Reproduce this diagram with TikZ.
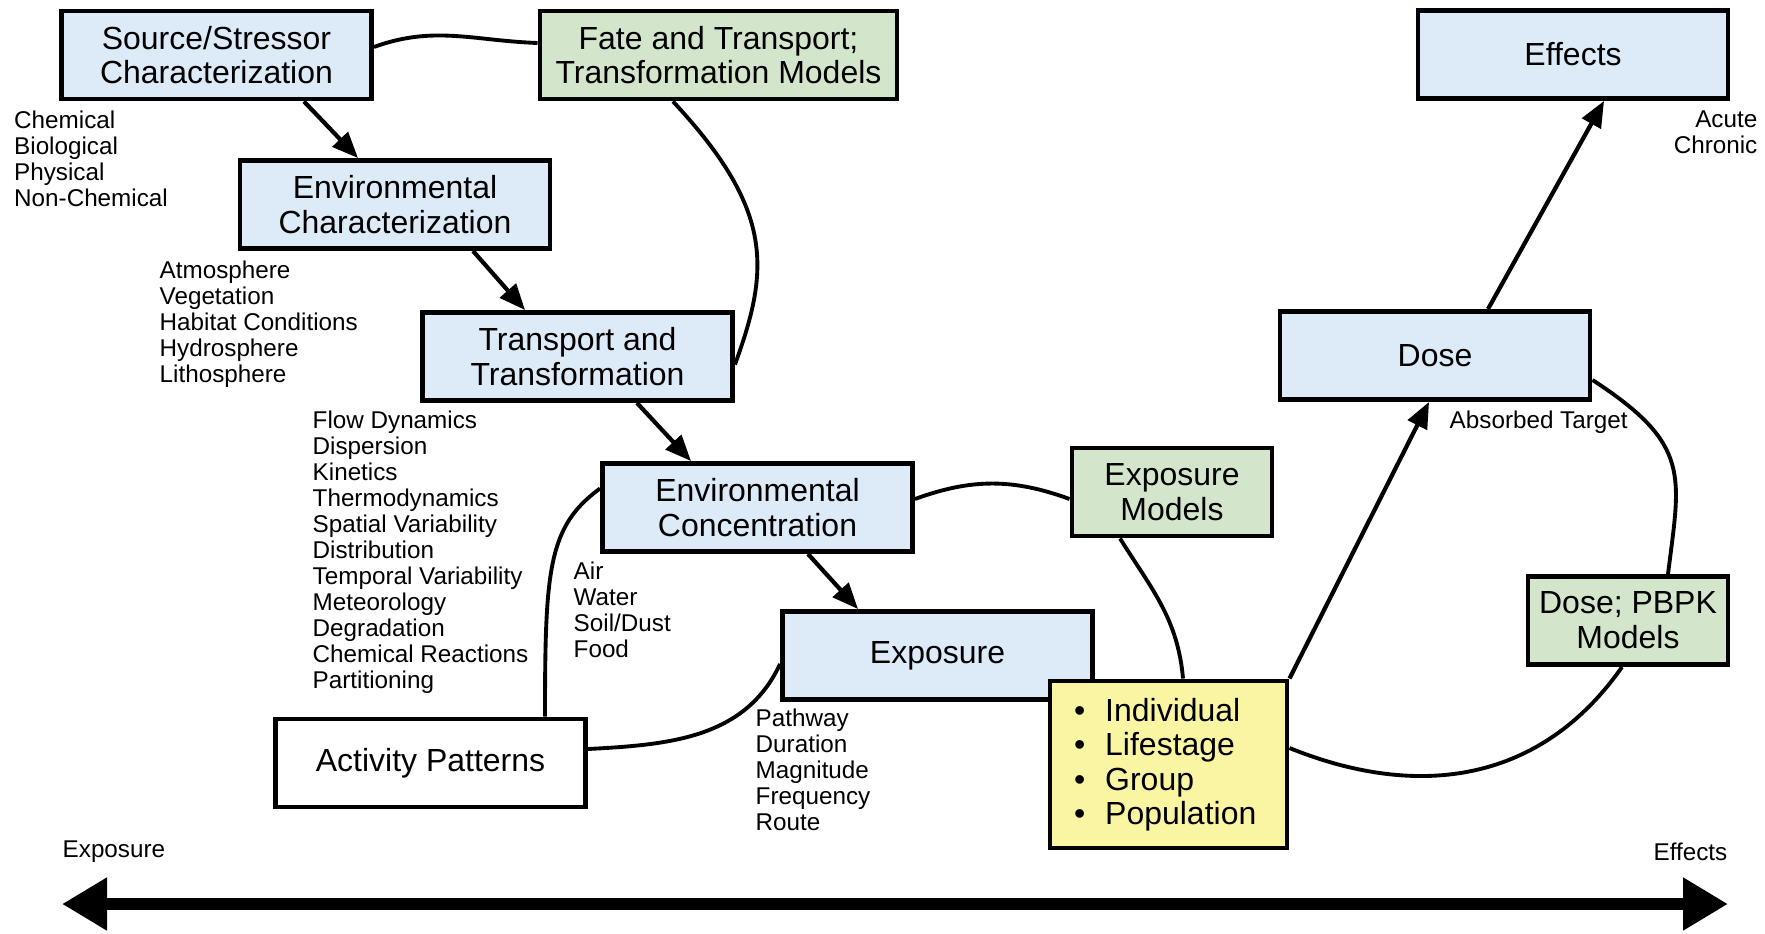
\documentclass[tikz,border=0pt]{standalone}
\usepackage{fontspec}
\setmainfont{Liberation Sans}
\usetikzlibrary{arrows.meta, positioning}

\definecolor{stageblue}{RGB}{221,235,248}
\definecolor{modelgreen}{RGB}{211,230,204}
\definecolor{groupyellow}{RGB}{250,245,162}

\begin{document}
\begin{tikzpicture}[
        stage/.style={rectangle, draw, line width=1.4pt, fill=stageblue, minimum width=3.1cm, minimum height=0.88cm, inner sep=0pt, align=center, font=\fontsize{9.1}{9.9}\selectfont},
        model/.style={stage, fill=modelgreen, minimum width=2cm},
        target/.style={stage, fill=groupyellow, minimum width=2.37cm, minimum height=1.67cm, text width=1.89cm, inner xsep=0.24cm, align=left, font=\fontsize{9.1}{9.8}\selectfont},
        notes/.style={inner sep=0pt, anchor=north west, align=left, font=\fontsize{6.9}{7.4}\selectfont},
        line/.style={-, line width=1.1pt},
        flow/.style={-{Triangle[length=0.26cm, width=0.21cm]}, line width=1.2pt},
        span/.style={{Triangle[length=0.45cm, width=0.5cm]}-{Triangle[length=0.45cm, width=0.5cm]}, line width=3.2pt}
    ]
        \fill[white] (0,0) rectangle (17.65,-9.33);
        \useasboundingbox (0,0) rectangle (17.65,-9.33);

        % Source to exposure chain
        \node[stage] (src) at (2.165,-0.55) {Source/Stressor\\Characterization};
        \node[stage] (envchar) at (3.95,-2.045) {Environmental\\Characterization};
        \node[stage] (transp) at (5.775,-3.565) {Transport and\\Transformation};
        \node[stage] (envconc) at (7.575,-5.075) {Environmental\\Concentration};
        \node[stage] (exposure) at (9.375,-6.555) {Exposure};
        \node[stage, fill=white] (activity) at (4.305,-7.63) {Activity Patterns};

        % Dose and effects
        \node[stage] (dose) at (14.35,-3.555) {Dose};
        \node[stage] (effects) at (15.73,-0.545) {Effects};

        % Models
        \node[model, minimum width=3.57cm] (fate) at (7.185,-0.55) {Fate and Transport;\\Transformation Models};
        \node[model] (expmod) at (11.72,-4.92) {Exposure\\Models};
        \node[model] (pbpk) at (16.28,-6.205) {Dose; PBPK\\Models};

        % Receptors
        \node[target] (pop) at (11.685,-7.645) {\textbullet\hspace{2mm}Individual\\\textbullet\hspace{2mm}Lifestage\\\textbullet\hspace{2mm}Group\\\textbullet\hspace{2mm}Population};

        % Factor lists
        \node[notes] (stressors) at (0.135,-1.10) {Chemical\\Biological\\Physical\\Non-Chemical};
        \node[notes] (media) at (1.59,-2.60) {Atmosphere\\Vegetation\\Habitat Conditions\\Hydrosphere\\Lithosphere};
        \node[notes] (processes) at (3.12,-4.10) {Flow Dynamics\\Dispersion\\Kinetics\\Thermodynamics\\Spatial Variability\\Distribution\\Temporal Variability\\Meteorology\\Degradation\\Chemical Reactions\\Partitioning};
        \node[notes] (matrices) at (5.73,-5.61) {Air\\Water\\Soil/Dust\\Food};
        \node[notes] (contact) at (7.55,-7.08) {Pathway\\Duration\\Magnitude\\Frequency\\Route};
        \node[notes] (absorbed) at (14.49,-4.10) {Absorbed Target};
        \node[notes, anchor=north east, align=right] (timing) at (17.58,-1.10) {Acute\\Chronic};

        % Arrows along the chain
        \draw[flow] ([xshift=0.875cm]src.south) -- ([xshift=-0.37cm]envchar.north);
        \draw[flow] ([xshift=0.78cm]envchar.south) -- ([xshift=-0.525cm]transp.north);
        \draw[flow] ([xshift=0.595cm]transp.south) -- ([xshift=-0.665cm]envconc.north);
        \draw[flow] ([xshift=0.505cm]envconc.south) -- ([xshift=-0.795cm]exposure.north);
        \draw[flow] (pop.north east) -- ([xshift=-0.06cm]dose.south);
        \draw[flow] ([xshift=0.53cm]dose.north) -- ([xshift=0.31cm]effects.south);

        % Model loops
        \draw[line] ([yshift=0.08cm]src.east) to[out=20, in=178] ([yshift=0.12cm]fate.west);
        \draw[line] ([xshift=-0.455cm]fate.south) to[out=-47, in=70, out looseness=1.42, in looseness=0.95] ([yshift=-0.08cm]transp.east);
        \draw[line] ([xshift=1.145cm]activity.north) to[out=90, in=-144, out looseness=1.6, in looseness=0.7] ([yshift=0.19cm]envconc.west);
        \draw[line] ([yshift=0.14cm]activity.east) to[out=3, in=-115] ([yshift=-0.085cm]exposure.west);
        \draw[line] ([yshift=0.085cm]envconc.east) to[out=20, in=160] ([yshift=-0.07cm]expmod.west);
        \draw[line] ([xshift=-0.52cm]expmod.south) to[out=-58, in=95] ([xshift=0.145cm]pop.north);
        \draw[line] ([yshift=-0.245cm]dose.east) to[out=-33, in=83, out looseness=1.46, in looseness=1.22] ([xshift=0.4cm]pbpk.north);
        \draw[line] ([xshift=-0.06cm]pbpk.south) to[out=-125, in=-22, looseness=1.05] ([yshift=0.165cm]pop.east);

        % Exposure to effects axis
        \coordinate (axl) at (0.62,-9.04);
        \coordinate (axr) at (17.28,-9.04);
        \draw[span] (axl) -- (axr);
        \node[notes, anchor=west] (axlabl) at (0.62,-8.52) {Exposure};
        \node[notes, anchor=east] (axlabr) at (17.28,-8.52) {Effects};

    \end{tikzpicture}
\end{document}
